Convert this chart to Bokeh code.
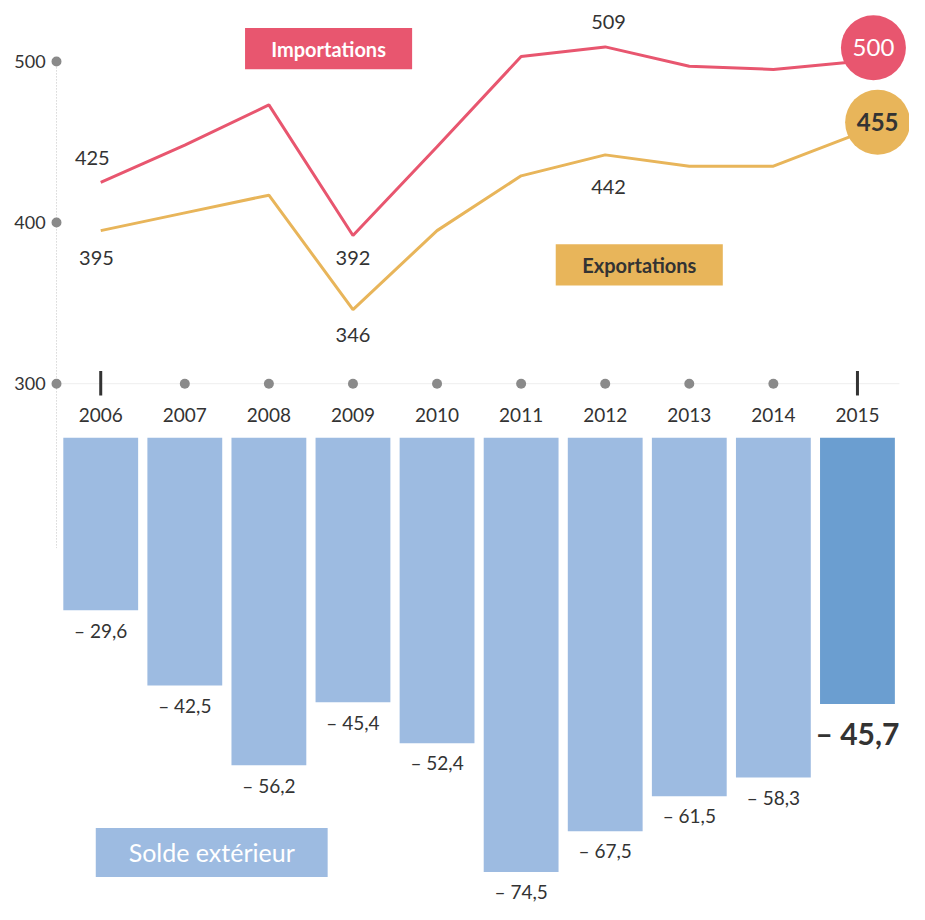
from bokeh.plotting import figure
from bokeh.models import Range1d, ColumnDataSource
from bokeh.core.properties import value
from bokeh.embed import file_html
from bokeh.resources import INLINE

# ---------------- data ----------------
years = [2006, 2007, 2008, 2009, 2010, 2011, 2012, 2013, 2014, 2015]
imports = [425, 448, 473, 392, 447, 503, 509, 497, 495, 500]
exports = [395, 406, 417, 346, 395, 429, 442, 435, 435, 455]
balance = [-29.6, -42.5, -56.2, -45.4, -52.4, -74.5, -67.5, -61.5, -58.3, -45.7]
y_ticks = [300, 400, 500]
series_names = ["Importations", "Exportations", "Solde extérieur"]

# ---------------- styles ----------------
RED = "#e8566f"
GOLD = "#e8b55a"
BLUE = "#9dbbe1"
BLUE_DARK = "#6b9ed0"
DARK = "#333333"
GREY = "#8a8a8a"
FONT = value("Lato")


def fr(v):
    s = f"{abs(v):.1f}".replace(".", ",")
    return ("– " if v < 0 else "") + s


p = figure(width=909, height=904, output_backend="svg", toolbar_location=None,
           x_range=Range1d(2004.808, 2015.619), y_range=Range1d(-23.17, 537.80),
           x_axis_location=None, y_axis_location=None, min_border=0,
           background_fill_color="white", border_fill_color="white")
p.outline_line_color = None
p.grid.visible = False
p.extra_y_ranges = {"bars": Range1d(-80.09, 75.05)}

AX_X = 2005.474

# faint baseline and dotted axis
p.segment(x0=[AX_X], y0=[300], x1=[2015.5], y1=[300], line_color="#eeeeee", line_width=1)
p.segment(x0=[AX_X], y0=[max(y_ticks)], x1=[AX_X], y1=[198], line_color="#c4c4c4",
          line_width=1, line_dash="1 2")

# y tick dots and labels
p.scatter(x=[AX_X] * len(y_ticks), y=y_ticks, size=10, color=GREY, line_color=None)
p.text(x=[AX_X - 0.13] * len(y_ticks), y=y_ticks, text=[str(t) for t in y_ticks],
       text_font=FONT, text_font_size="18px", text_align="right", text_baseline="middle",
       text_color=DARK)

# x ticks: dots for middle years, bars for ends
p.scatter(x=years[1:-1], y=[300] * (len(years) - 2), size=10, color=GREY, line_color=None)
p.segment(x0=[years[0], years[-1]], y0=[292.7] * 2, x1=[years[0], years[-1]], y1=[307.9] * 2,
          line_color=DARK, line_width=3)
p.text(x=years, y=[280.5] * len(years), text=[str(y) for y in years], text_font=FONT,
       text_font_size="19px", text_align="center", text_baseline="middle", text_color=DARK)

# lines
p.line(years, imports, line_color=RED, line_width=3)
p.line(years, exports, line_color=GOLD, line_width=3)

# point labels
lab_x = [years[0] - 0.1, years[0] - 0.05, years[3], years[3], years[6] + 0.04, years[6] + 0.04]
lab_y = [imports[0] + 15.2, exports[0] - 17, imports[3] - 14, exports[3] - 15.5,
         imports[6] + 15.4, exports[6] - 20]
lab_t = [str(imports[0]), str(exports[0]), str(imports[3]), str(exports[3]),
         str(imports[6]), str(exports[6])]
p.text(x=lab_x, y=lab_y, text=lab_t, text_font=FONT, text_font_size="20px",
       text_align="center", text_baseline="middle", text_color=DARK)

# end circles
p.scatter(x=[years[-1] + 0.19], y=[imports[-1] + 8.5], size=65, color=RED, line_color=None)
p.scatter(x=[years[-1] + 0.24], y=[exports[-1] + 7.2], size=65, color=GOLD, line_color=None)
p.text(x=[years[-1] + 0.19], y=[imports[-1] + 8.5], text=[str(imports[-1])], text_font=FONT,
       text_font_size="24px", text_align="center", text_baseline="middle", text_color="white")
p.text(x=[years[-1] + 0.24], y=[exports[-1] + 7.2], text=[str(exports[-1])], text_font=FONT,
       text_font_size="24px", text_font_style="bold", text_align="center",
       text_baseline="middle", text_color=DARK)

# legend boxes
p.rect(x=[2008.71], y=[507.9], width=1.987, height=25.6, fill_color=RED, line_color=None)
p.text(x=[2008.71], y=[507.9], text=[series_names[0]], text_font=FONT, text_font_size="20px",
       text_font_style="bold", text_align="center", text_baseline="middle", text_color="white")
p.rect(x=[2012.405], y=[373.8], width=1.987, height=25.6, fill_color=GOLD, line_color=None)
p.text(x=[2012.405], y=[373.8], text=[series_names[1]], text_font=FONT, text_font_size="20px",
       text_font_style="bold", text_align="center", text_baseline="middle", text_color=DARK)
p.rect(x=[2007.32], y=[9.1], width=2.758, height=30.5, fill_color=BLUE, line_color=None)
p.text(x=[2007.32], y=[9.1], text=[series_names[2]], text_font=FONT, text_font_size="25px",
       text_align="center", text_baseline="middle", text_color="white")

# bars
colors = [BLUE] * (len(years) - 1) + [BLUE_DARK]
src = ColumnDataSource(dict(x=years, top=[0] * len(years), bottom=balance, color=colors))
p.vbar(x="x", top="top", bottom="bottom", width=0.89, fill_color="color", line_color=None,
       source=src, y_range_name="bars")

p.text(x=years[:-1], y=[b - 3.4 for b in balance[:-1]], text=[fr(b) for b in balance[:-1]],
       text_font=FONT, text_font_size="19px", text_align="center", text_baseline="middle",
       text_color=DARK, y_range_name="bars")
p.text(x=[years[-1] + 0.0], y=[balance[-1] - 4.9], text=[fr(balance[-1])], text_font=FONT,
       text_font_size="30px", text_font_style="bold", text_align="center",
       text_baseline="middle", text_color=DARK, y_range_name="bars")

open("out.html", "w").write(file_html(p, INLINE))
